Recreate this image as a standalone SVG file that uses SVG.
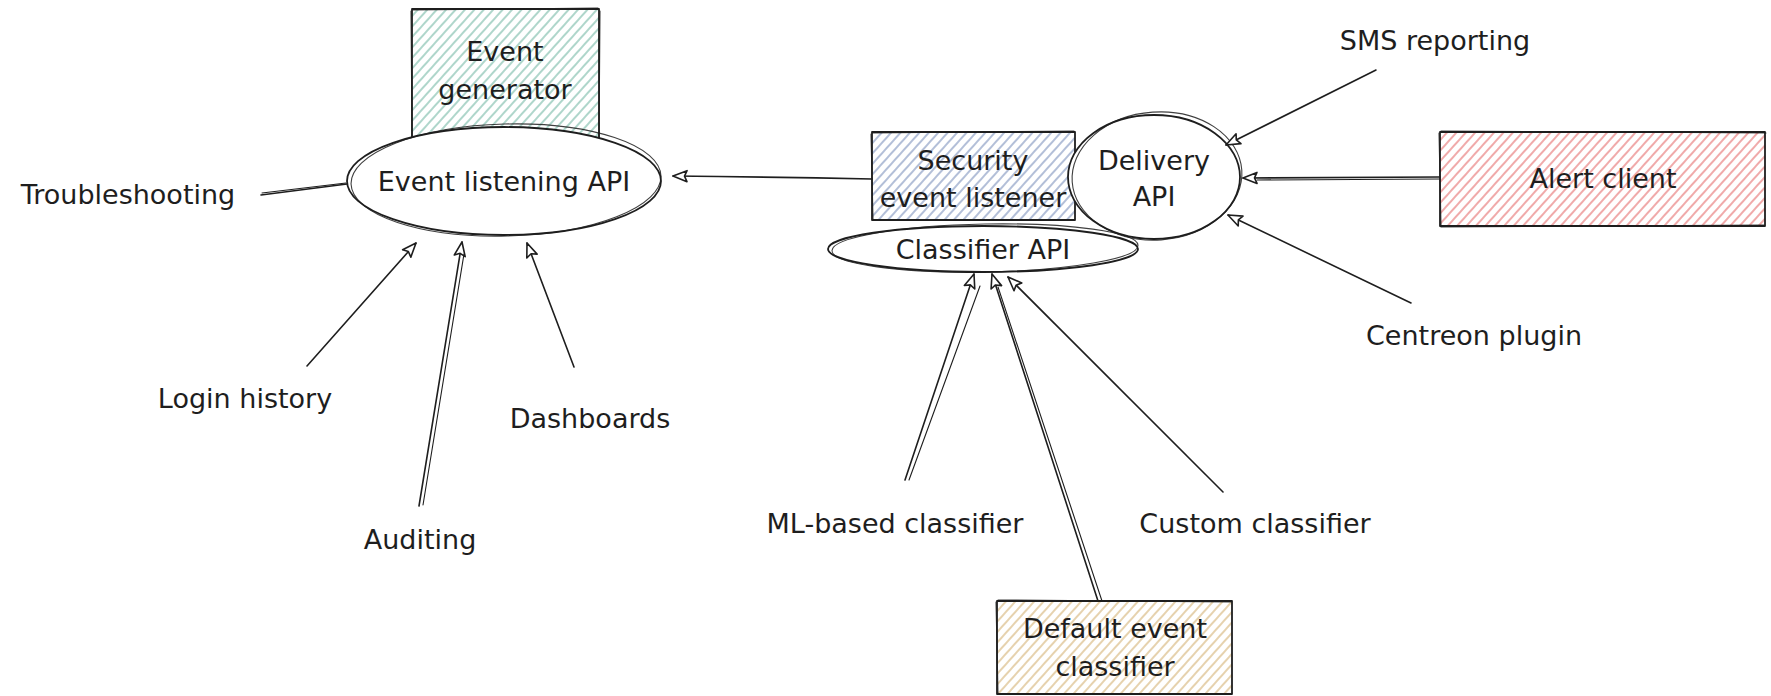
<svg xmlns="http://www.w3.org/2000/svg" width="1771" height="696" viewBox="0 0 1771 696">
  <style>
    text { font-family: "DejaVu Sans", "Liberation Sans", sans-serif; font-size: 27px; fill: #1e1e1e; text-anchor: middle; dominant-baseline: central; }
    .ink { fill: none; stroke: #1e1e1e; stroke-width: 1.8; stroke-linecap: round; stroke-linejoin: round; }
    .ink2 { fill: none; stroke: #1e1e1e; stroke-width: 1.1; stroke-linecap: round; opacity: 0.85; }
    .solid { fill: #ffffff; }
    .wire { fill: none; stroke: #1e1e1e; stroke-width: 1.6; stroke-linecap: round; }
    .wire2 { fill: none; stroke: #1e1e1e; stroke-width: 1.1; stroke-linecap: round; }
  </style>
  <defs>
    <pattern id="hGreen" patternUnits="userSpaceOnUse" width="7" height="7" patternTransform="rotate(42)">
      <rect width="7" height="7" fill="#ffffff"/>
      <line x1="2" y1="0" x2="2" y2="7" stroke="#afd6cb" stroke-width="2"/>
    </pattern>
    <pattern id="hBlue" patternUnits="userSpaceOnUse" width="7" height="7" patternTransform="rotate(42)">
      <rect width="7" height="7" fill="#ffffff"/>
      <line x1="2" y1="0" x2="2" y2="7" stroke="#b3bfd8" stroke-width="2"/>
    </pattern>
    <pattern id="hPink" patternUnits="userSpaceOnUse" width="7" height="7" patternTransform="rotate(42)">
      <rect width="7" height="7" fill="#ffffff"/>
      <line x1="2" y1="0" x2="2" y2="7" stroke="#f0aaaa" stroke-width="2"/>
    </pattern>
    <pattern id="hTan" patternUnits="userSpaceOnUse" width="7" height="7" patternTransform="rotate(42)">
      <rect width="7" height="7" fill="#ffffff"/>
      <line x1="2" y1="0" x2="2" y2="7" stroke="#e6d2ae" stroke-width="2"/>
    </pattern>
    <!-- open triangular arrowhead; tip sits on the path start -->
    <marker id="ah" viewBox="0 0 16 14" refX="1" refY="7" markerWidth="16" markerHeight="14" markerUnits="userSpaceOnUse" orient="auto">
      <path d="M1,7 L15,1.5 L12.5,7 L15,12.5 Z" fill="#ffffff" stroke="#1e1e1e" stroke-width="1.6" stroke-linejoin="round"/>
    </marker>
  </defs>

  <rect width="1771" height="696" fill="#ffffff"/>

  <!-- Event generator -->
  <g id="event-generator">
    <rect x="412" y="9" width="187" height="130" fill="url(#hGreen)"/>
    <rect class="ink" x="412" y="9" width="187" height="130"/>
    <path class="ink2" d="M413,10 L598,8 M600,11 L599,138 M411,11 L412,137"/>
    <text x="505" y="51">Event</text>
    <text x="505" y="89">generator</text>
  </g>

  <!-- Event listening API -->
  <g id="event-listening-api">
    <ellipse class="solid" cx="504" cy="181" rx="157" ry="54"/>
    <ellipse class="ink" cx="504" cy="181" rx="157" ry="54"/>
    <ellipse class="ink2" cx="506" cy="180" rx="155" ry="56" transform="rotate(-1.5 506 180)"/>
    <text x="504" y="181">Event listening API</text>
  </g>

  <!-- Security event listener -->
  <g id="security-event-listener">
    <rect x="872" y="132" width="203" height="88" fill="url(#hBlue)"/>
    <rect class="ink" x="872" y="132" width="203" height="88"/>
    <path class="ink2" d="M873,133 L1074,131 M871,134 L873,219"/>
    <text x="973" y="160">Security</text>
    <text x="973" y="197">event listener</text>
  </g>

  <!-- Classifier API -->
  <g id="classifier-api">
    <ellipse class="solid" cx="983" cy="249" rx="155" ry="23"/>
    <ellipse class="ink" cx="983" cy="249" rx="155" ry="23"/>
    <ellipse class="ink2" cx="985" cy="248" rx="153" ry="24" transform="rotate(-1 985 248)"/>
    <text x="983" y="249">Classifier API</text>
  </g>

  <!-- Delivery API -->
  <g id="delivery-api">
    <ellipse class="solid" cx="1154" cy="177" rx="86" ry="62"/>
    <ellipse class="ink" cx="1154" cy="177" rx="86" ry="62"/>
    <ellipse class="ink2" cx="1157" cy="176" rx="85" ry="64" transform="rotate(-4 1157 176)"/>
    <text x="1154" y="160">Delivery</text>
    <text x="1154" y="196">API</text>
  </g>

  <!-- Alert client -->
  <g id="alert-client">
    <rect x="1440" y="132" width="325" height="94" fill="url(#hPink)"/>
    <rect class="ink" x="1440" y="132" width="325" height="94"/>
    <path class="ink2" d="M1441,131 L1766,133 M1439,133 L1441,225 M1441,227 L1764,225"/>
    <text x="1603" y="178">Alert client</text>
  </g>

  <!-- Default event classifier -->
  <g id="default-event-classifier">
    <rect x="997" y="601" width="235" height="93" fill="url(#hTan)"/>
    <rect class="ink" x="997" y="601" width="235" height="93"/>
    <path class="ink2" d="M998,600 L1231,602 M996,602 L998,693"/>
    <text x="1115" y="628">Default event</text>
    <text x="1115" y="666">classifier</text>
  </g>

  <!-- free labels -->
  <g id="troubleshooting"><text x="128" y="194">Troubleshooting</text></g>
  <g id="sms-reporting"><text x="1435" y="40">SMS reporting</text></g>
  <g id="centreon-plugin"><text x="1474" y="335">Centreon plugin</text></g>
  <g id="login-history"><text x="245" y="398">Login history</text></g>
  <g id="auditing"><text x="420" y="539">Auditing</text></g>
  <g id="dashboards"><text x="590" y="418">Dashboards</text></g>
  <g id="ml-classifier"><text x="895" y="523">ML-based classifier</text></g>
  <g id="custom-classifier"><text x="1255" y="523">Custom classifier</text></g>

  <!-- connectors: each path starts at its arrow tip -->
  <g id="connectors">
    <!-- Troubleshooting to listening API (plain line) -->
    <path class="wire" d="M261,195 L347,184"/>
    <path class="wire2" d="M262,193 L346,183"/>
    <!-- listener to listening API -->
    <path class="wire" d="M673,176 Q770,177 872,179" marker-start="url(#ah)"/>
    <!-- event listening consumers -->
    <path class="wire" d="M416,243 L307,366" marker-start="url(#ah)"/>
    <path class="wire" d="M462,242 L419,506" marker-start="url(#ah)"/>
    <path class="wire2" d="M464,254 L423,505"/>
    <path class="wire" d="M527,243 L574,367" marker-start="url(#ah)"/>
    <!-- delivery inputs -->
    <path class="wire" d="M1226,145 L1376,70" marker-start="url(#ah)"/>
    <path class="wire" d="M1243,178 L1440,177" marker-start="url(#ah)"/>
    <path class="wire2" d="M1257,180 L1440,179"/>
    <path class="wire" d="M1228,215 L1411,303" marker-start="url(#ah)"/>
    <!-- classifier inputs -->
    <path class="wire" d="M974,274 L905,480" marker-start="url(#ah)"/>
    <path class="wire2" d="M980,286 L909,480"/>
    <path class="wire" d="M992,274 L1098,601" marker-start="url(#ah)"/>
    <path class="wire2" d="M998,287 L1102,601"/>
    <path class="wire" d="M1008,277 L1223,492" marker-start="url(#ah)"/>
  </g>
</svg>
